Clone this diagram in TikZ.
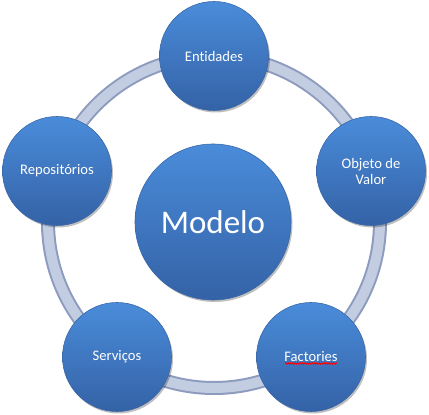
\documentclass[tikz,border=0pt]{standalone}
\usepackage{fontspec}
\setmainfont[Ligatures=NoCommon]{Carlito}
\usetikzlibrary{shadows,decorations.pathmorphing}
\definecolor{ringdark}{HTML}{8C9BBE}
\definecolor{ringlight}{HTML}{C3CDE2}
\definecolor{btop}{HTML}{4A8CDA}
\definecolor{bbot}{HTML}{3462A6}
\definecolor{bedge}{HTML}{3A67A8}
\tikzset{
  bubble/.style={circle, minimum size=109pt, inner sep=0pt, draw=bedge, line width=0.6pt,
    top color=btop, bottom color=bbot, text=white, align=center,
    font=\fontsize{14.6}{16}\selectfont,
    drop shadow={shadow xshift=1.5pt, shadow yshift=-2pt, opacity=0.25, fill=black}},
  bigbubble/.style={bubble, minimum size=156pt, font=\fontsize{33}{36}\selectfont},
  spellline/.style={red, line width=0.8pt, decorate, decoration={snake, amplitude=0.8pt, segment length=2.4pt}}
}
\begin{document}
\begin{tikzpicture}[x=1pt,y=1pt]
\useasboundingbox (0,0) rectangle (429,415);
\fill[white] (0,0) rectangle (429,415);
\coordinate (rc) at (214,193);
\draw[ringdark, line width=14pt] (rc) circle[radius=166];
\draw[ringlight, line width=10pt] (rc) circle[radius=166];
\node[bubble] (ent) at (214,359) {Entidades};
\node[bubble] (obj) at (371,244) {Objeto de\\Valor};
\node[bubble] (rep) at (57,244) {Repositórios};
\node[bubble] (ser) at (117,58) {Serviços};
\node[bubble] (fac) at (311,58) {Factories};
\node[bigbubble] (mod) at (213,193) {Modelo};
\coordinate (ulA) at ([shift={(-26,-6.5)}]fac.center);
\coordinate (ulB) at ([shift={(26,-6.5)}]fac.center);
\draw[spellline] (ulA) -- (ulB);
\end{tikzpicture}
\end{document}
